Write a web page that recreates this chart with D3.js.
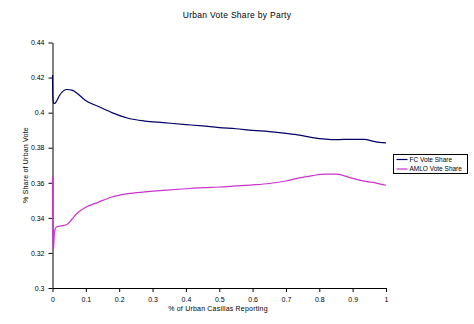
<!DOCTYPE html>
<html>
<head>
<meta charset="utf-8">
<script src="https://cdn.jsdelivr.net/npm/d3@7"></script>
<style>
  html, body { margin: 0; padding: 0; background: #fff; }
  svg { display: block; font-family: "Liberation Sans", Arial, sans-serif; }
</style>
</head>
<body>
<svg id="chart" width="474" height="324"></svg>
<script>
// Share of urban reported vote by party vs. fraction of urban casillas counted
const seriesNames = ["FC Vote Share", "AMLO Vote Share"];
const seriesColors = ["#000066", "#cc33cc"];

const reported = [0, 0.001, 0.003, 0.006, 0.012, 0.02, 0.03, 0.043, 0.058, 0.073, 0.098, 0.138, 0.178, 0.227, 0.277, 0.332, 0.4, 0.45, 0.5, 0.55, 0.6, 0.65, 0.7, 0.741, 0.78, 0.82, 0.85, 0.895, 0.935, 0.96, 0.98, 1];

const fcShare = [0.4215, 0.409, 0.4055, 0.4052, 0.4065, 0.4095, 0.412, 0.4132, 0.4128, 0.4112, 0.4071, 0.4035, 0.4, 0.3968, 0.3952, 0.3943, 0.3932, 0.3924, 0.3915, 0.3908, 0.3899, 0.3892, 0.3882, 0.3872, 0.3858, 0.3849, 0.3846, 0.3848, 0.3848, 0.3838, 0.383, 0.3828];

const amloShare = [0.3635, 0.3218, 0.3225, 0.3325, 0.3348, 0.3352, 0.3356, 0.3362, 0.3392, 0.3425, 0.3459, 0.349, 0.3519, 0.3538, 0.3548, 0.3557, 0.3566, 0.3572, 0.3576, 0.3582, 0.3588, 0.3596, 0.361, 0.3628, 0.3641, 0.3649, 0.3649, 0.3628, 0.3609, 0.3602, 0.3594, 0.3586];

const xTicks = [0, 0.1, 0.2, 0.3, 0.4, 0.5, 0.6, 0.7, 0.8, 0.9, 1];
const xTickLabels = ["0", "0.1", "0.2", "0.3", "0.4", "0.5", "0.6", "0.7", "0.8", "0.9", "1"];
const yTicks = [0.3, 0.32, 0.34, 0.36, 0.38, 0.4, 0.42, 0.44];
const yTickLabels = ["0.3", "0.32", "0.34", "0.36", "0.38", "0.4", "0.42", "0.44"];

const svg = d3.select("#chart");
const margin = { left: 52.5, right: 88, top: 42.5, bottom: 36 };
const W = 474, H = 324;

const x = d3.scaleLinear().domain([0, 1]).range([margin.left, W - margin.right]);
const y = d3.scaleLinear().domain([0.3, 0.44]).range([H - margin.bottom, margin.top]);

// Title
svg.append("text")
  .attr("x", 237).attr("y", 18)
  .attr("text-anchor", "middle")
  .attr("font-size", 8.5)
  .attr("letter-spacing", 0.3)
  .text("Urban Vote Share by Party");

// Axes
const xAxis = d3.axisBottom(x).tickValues(xTicks)
  .tickFormat((d, i) => xTickLabels[i]).tickSize(4).tickSizeOuter(0);
const yAxis = d3.axisLeft(y).tickValues(yTicks)
  .tickFormat((d, i) => yTickLabels[i]).tickSize(4).tickSizeOuter(0);

const gx = svg.append("g").attr("transform", `translate(0,${y(0.3)})`).call(xAxis);
const gy = svg.append("g").attr("transform", `translate(${x(0)},0)`).call(yAxis);
[gx, gy].forEach(g => {
  g.selectAll("path, line").attr("stroke", "#000").attr("stroke-width", 1);
  g.selectAll("text").attr("font-size", 7).attr("fill", "#000")
    .attr("font-family", "Liberation Sans, Arial, sans-serif");
});
gx.selectAll("text").attr("dy", "0.95em");
gy.selectAll("text").attr("dx", "-1px");

// Axis titles
svg.append("text")
  .attr("x", 218).attr("y", 311)
  .attr("text-anchor", "middle")
  .attr("font-size", 7)
  .attr("letter-spacing", 0.2)
  .text("% of Urban Casillas Reporting");

svg.append("text")
  .attr("transform", `translate(28,165) rotate(-90)`)
  .attr("text-anchor", "middle")
  .attr("font-size", 7)
  .attr("letter-spacing", 0.2)
  .text("% Share of Urban Vote");

// Series lines
const series = [fcShare, amloShare];
const line = d3.line()
  .x(d => x(d[0]))
  .y(d => y(d[1]))
  .curve(d3.curveMonotoneX);

series.forEach((vals, i) => {
  svg.append("path")
    .datum(reported.map((r, j) => [r, vals[j]]))
    .attr("fill", "none")
    .attr("stroke", seriesColors[i])
    .attr("stroke-width", 1.2)
    .attr("d", line);
});

// Legend
const lg = svg.append("g").attr("transform", "translate(393.5,154.5)");
lg.append("rect").attr("width", 74).attr("height", 19)
  .attr("fill", "#fff").attr("stroke", "#000").attr("stroke-width", 1);
seriesNames.forEach((name, i) => {
  const yy = 5 + i * 9.5;
  lg.append("line").attr("x1", 3).attr("x2", 14).attr("y1", yy).attr("y2", yy)
    .attr("stroke", seriesColors[i]).attr("stroke-width", 1.2);
  lg.append("text").attr("x", 16).attr("y", yy + 2.4)
    .attr("font-size", 6.5).text(name);
});
</script>
</body>
</html>
